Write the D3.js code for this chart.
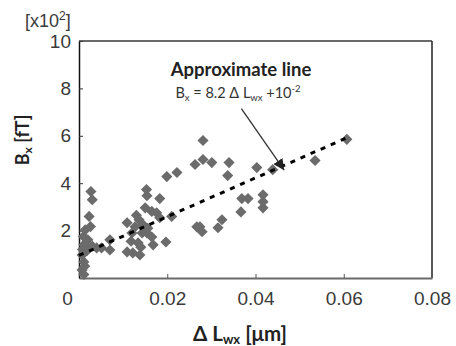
<!DOCTYPE html>
<html lang="en">
<head>
<meta charset="UTF-8">
<title>Bx vs dLwx</title>
<script src="https://d3js.org/d3.v7.min.js"></script>
<style>
    body { margin: 0; background: #fff; }
    .axis text { font-family: "Liberation Sans", Arial, sans-serif; font-size: 19px; fill: #3a3a3a; }
    .label { font-family: Lato, "Open Sans", sans-serif; fill: #222; }
</style>
</head>
<body>
<svg width="456" height="346"></svg>
<script>
// axis ticks
const xTicks = [0, 0.02, 0.04, 0.06, 0.08];
const yTicks = [2, 4, 6, 8, 10];

// measured points: dLwx [um], Bx [x10^2 fT]
const dL = [0.0027, 0.0030, 0.0023, 0.0026, 0.0014, 0.0020, 0.0011, 0.0007, 0.0011, 0.0007,
            0.0011, 0.0040, 0.0051, 0.0070, 0.0070, 0.0153, 0.0154, 0.0183, 0.0150, 0.0165,
            0.0176, 0.0183, 0.0210, 0.0199, 0.0222, 0.0263, 0.0281, 0.0136, 0.0127, 0.0109,
            0.0120, 0.0143, 0.0134, 0.0154, 0.0165, 0.0168, 0.0109, 0.0122, 0.0138, 0.0197,
            0.0267, 0.0281, 0.0301, 0.0340, 0.0337, 0.0403, 0.0369, 0.0383, 0.0367, 0.0274,
            0.0279, 0.0324, 0.0315, 0.0439, 0.0535, 0.0607, 0.0417, 0.0417, 0.0417,
            0.0010, 0.0018, 0.0013, 0.0008, 0.0030, 0.0130, 0.0145, 0.0118, 0.0156, 0.0140];
const bx = [3.65, 3.30, 2.60, 2.17, 2.03, 1.61, 1.40, 0.97, 0.68, 0.34,
            0.15, 1.27, 1.27, 1.61, 1.18, 3.73, 3.47, 3.35, 2.96, 2.81,
            2.75, 2.54, 2.60, 4.28, 4.45, 4.79, 5.80, 2.46, 2.16, 2.33,
            1.90, 1.90, 1.48, 1.90, 1.73, 1.40, 1.10, 1.06, 0.97, 1.52,
            2.16, 5.00, 4.87, 4.87, 4.32, 4.66, 3.35, 3.35, 2.79, 2.16,
            1.95, 2.46, 2.12, 4.57, 4.96, 5.85, 3.51, 3.22, 2.96,
            1.75, 1.15, 0.50, 1.20, 1.35, 2.65, 2.25, 1.55, 2.10, 1.30];

// approximate line
const fitX = [0, 0.0605];
const fitY = [0.95, 5.9];

// annotation arrow (start, tip) in data units
const arrowX = [0.0368, 0.0465];
const arrowY = [7.15, 4.55];

const svg = d3.select("svg");
svg.append("rect").attr("width", 456).attr("height", 346).attr("fill", "#fff");

const x = d3.scaleLinear().domain([0, 0.08]).range([79, 432]);
const y = d3.scaleLinear().domain([0, 10]).range([278, 41]);

// frame top and right
svg.append("line").attr("x1", x(0)).attr("x2", x(0.08)).attr("y1", y(10)).attr("y2", y(10))
    .attr("stroke", "#6a6a6a").attr("stroke-width", 2);
svg.append("line").attr("x1", x(0.08)).attr("x2", x(0.08)).attr("y1", y(10)).attr("y2", y(0))
    .attr("stroke", "#222").attr("stroke-width", 1.5);

// x axis
const xAxis = svg.append("g")
    .attr("class", "axis")
    .attr("transform", "translate(0," + y(0) + ")")
    .call(d3.axisBottom(x).tickValues(xTicks).tickSizeInner(-4).tickSizeOuter(0).tickPadding(14)
        .tickFormat(d => d === 0 ? "0" : d3.format(".2f")(d)));
xAxis.select(".domain").attr("stroke", "#6a6a6a").attr("stroke-width", 2);
xAxis.selectAll(".tick line").attr("stroke", "#555");
xAxis.selectAll(".tick text").filter(d => d === 0).attr("dx", -12);

// y axis
const yAxis = svg.append("g")
    .attr("class", "axis")
    .attr("transform", "translate(" + x(0) + ",0)")
    .call(d3.axisLeft(y).tickValues(yTicks).tickSizeInner(-4).tickSizeOuter(0).tickPadding(8));
yAxis.select(".domain").attr("stroke", "#111").attr("stroke-width", 1.5);
yAxis.selectAll(".tick line").attr("stroke", "#333");

// points
const pts = dL.map((d, i) => ({x: d, y: bx[i]}));
svg.append("g").selectAll("path")
    .data(pts)
    .join("path")
    .attr("d", d3.symbol(d3.symbolSquare, 62)())
    .attr("transform", d => "translate(" + x(d.x) + "," + y(d.y) + ") rotate(45)")
    .attr("fill", "#6b6b6b");

// fit line
svg.append("path")
    .attr("d", d3.line().x(d => x(d[0])).y(d => y(d[1]))(fitX.map((v, i) => [v, fitY[i]])))
    .attr("fill", "none")
    .attr("stroke", "#000")
    .attr("stroke-width", 3)
    .attr("stroke-dasharray", "5,6");

// arrow
svg.append("defs").append("marker")
    .attr("id", "head").attr("viewBox", "0 0 10 10").attr("refX", 10).attr("refY", 5)
    .attr("markerWidth", 11).attr("markerHeight", 11).attr("markerUnits", "userSpaceOnUse")
    .attr("orient", "auto")
    .append("path").attr("d", "M0,0L10,5L0,10z").attr("fill", "#222");
svg.append("line")
    .attr("x1", x(arrowX[0])).attr("y1", y(arrowY[0]))
    .attr("x2", x(arrowX[1])).attr("y2", y(arrowY[1]))
    .attr("stroke", "#333").attr("stroke-width", 1.3)
    .attr("marker-end", "url(#head)");

// annotation text
svg.append("text").attr("class", "label")
    .attr("x", 241).attr("y", 76).attr("text-anchor", "middle")
    .attr("font-size", 18.5).attr("font-weight", "bold").attr("fill", "#111")
    .text("Approximate line");
const eq = svg.append("text").attr("class", "label")
    .attr("x", 238).attr("y", 98).attr("text-anchor", "middle")
    .attr("font-size", 14.5).style("fill", "#333");
eq.append("tspan").text("B");
eq.append("tspan").attr("font-size", 9.5).attr("dy", 3).text("x");
eq.append("tspan").attr("dy", -3).text(" = 8.2 \u0394 L");
eq.append("tspan").attr("font-size", 9.5).attr("dy", 3).text("wx");
eq.append("tspan").attr("dy", -3).text(" +10");
eq.append("tspan").attr("font-size", 9.5).attr("dy", -6).text("-2");

// unit label
const unit = svg.append("text").attr("class", "axis")
    .attr("x", 25).attr("y", 27)
    .style("font-family", "Liberation Sans, Arial, sans-serif").style("font-size", "18px").style("fill", "#3a3a3a");
unit.append("tspan").text("[x10");
unit.append("tspan").attr("font-size", 12).attr("dy", -7).text("2");
unit.append("tspan").attr("dy", 7).text("]");

// axis titles
const xt = svg.append("text").attr("class", "label")
    .attr("x", 240).attr("y", 341).attr("text-anchor", "middle")
    .attr("font-size", 20.5).attr("font-weight", "bold");
xt.append("tspan").text("\u0394 L");
xt.append("tspan").attr("font-size", 13).attr("dy", 3).text("wx");
xt.append("tspan").attr("dy", -3).text(" [\u03bcm]");

const yt = svg.append("text").attr("class", "label")
    .attr("transform", "translate(29,140) rotate(-90)").attr("text-anchor", "middle")
    .attr("font-size", 18).attr("font-weight", "bold");
yt.append("tspan").text("B");
yt.append("tspan").attr("font-size", 12).attr("dy", 3).text("x");
yt.append("tspan").attr("dy", -3).text(" [fT]");
</script>
</body>
</html>
